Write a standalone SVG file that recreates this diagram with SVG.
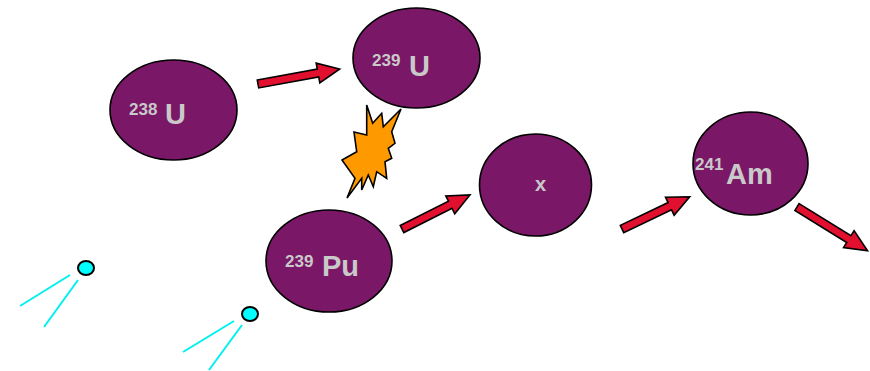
<svg xmlns="http://www.w3.org/2000/svg" width="870" height="371" viewBox="0 0 870 371">
  <defs>
    <style>
      .nuc { fill: #7A1767; stroke: #000; stroke-width: 1.6; }
      .lbl { font-family: "Liberation Sans", Arial, sans-serif; font-weight: bold; fill: #C9C9C9; }
      .iso { font-size: 17px; }
      .sym { font-size: 29px; }
      .arrow { fill: #E0102E; stroke: #000; stroke-width: 1.6; stroke-linejoin: miter; }
      .ray { stroke: #00F0F0; stroke-width: 2; fill: none; }
      .ptc { fill: #00FFFF; stroke: #000; stroke-width: 2; }
    </style>
  </defs>

  <rect width="870" height="371" fill="#fff"/>

  <!-- connectors: block arrows drawn along +x, then placed and turned -->
  <g id="connectors">
    <polygon class="arrow" transform="translate(258,84) rotate(-10.4)" points="0,-4 61,-4 61,-10 83,0 61,10 61,4 0,4"/>
    <polygon class="arrow" transform="translate(402,229) rotate(-26.6)" points="0,-4 54,-4 54,-10 76,0 54,10 54,4 0,4"/>
    <polygon class="arrow" transform="translate(622,229) rotate(-25.5)" points="0,-4 53,-4 53,-10 75,0 53,10 53,4 0,4"/>
    <polygon class="arrow" transform="translate(797,207) rotate(31.8)" points="0,-4 61,-4 61,-10 83,0 61,10 61,4 0,4"/>
  </g>

  <!-- fission burst -->
  <g id="burst">
    <polygon fill="#FF9900" stroke="#000" stroke-width="1.6" stroke-linejoin="miter"
      points="366.7,105 372.7,123.3 381.7,113.3 383.3,126.7 401,109 391.7,131.7 395,143.3 388.3,148.3 391.7,158.3 385,161.7 386.7,178.3 376.7,171.7 373.3,186.7 368.3,175 361.7,190 361.7,178.3 347,198 355,178.3 342,160 356.7,151.7 354,132 366.7,135"/>
  </g>

  <g id="u238">
    <ellipse class="nuc" cx="173.5" cy="110" rx="63.5" ry="50"/>
    <text class="lbl iso" x="129" y="115">238</text>
    <text class="lbl sym" x="165" y="124">U</text>
  </g>

  <g id="u239">
    <ellipse class="nuc" cx="416.5" cy="58" rx="63.5" ry="50"/>
    <text class="lbl iso" x="372" y="66">239</text>
    <text class="lbl sym" x="409" y="76">U</text>
  </g>

  <g id="pu239">
    <ellipse class="nuc" cx="329" cy="261" rx="63" ry="51"/>
    <text class="lbl iso" x="285" y="267">239</text>
    <text class="lbl sym" x="322" y="276">Pu</text>
  </g>

  <g id="x">
    <ellipse class="nuc" cx="535.5" cy="185" rx="56" ry="51"/>
    <text class="lbl" font-size="20" x="535" y="191">x</text>
  </g>

  <g id="am241">
    <ellipse class="nuc" cx="750.5" cy="163.5" rx="57.5" ry="51.5"/>
    <text class="lbl iso" x="695" y="170">241</text>
    <text class="lbl sym" x="726" y="184">Am</text>
  </g>

  <g id="neutron1">
    <line class="ray" x1="70" y1="275" x2="20" y2="306"/>
    <line class="ray" x1="78" y1="280" x2="44" y2="327"/>
    <ellipse class="ptc" cx="86" cy="268" rx="8" ry="7"/>
  </g>

  <g id="neutron2">
    <line class="ray" x1="234" y1="321" x2="183" y2="352"/>
    <line class="ray" x1="242" y1="325" x2="209" y2="370"/>
    <ellipse class="ptc" cx="250" cy="314" rx="8" ry="7"/>
  </g>
</svg>
